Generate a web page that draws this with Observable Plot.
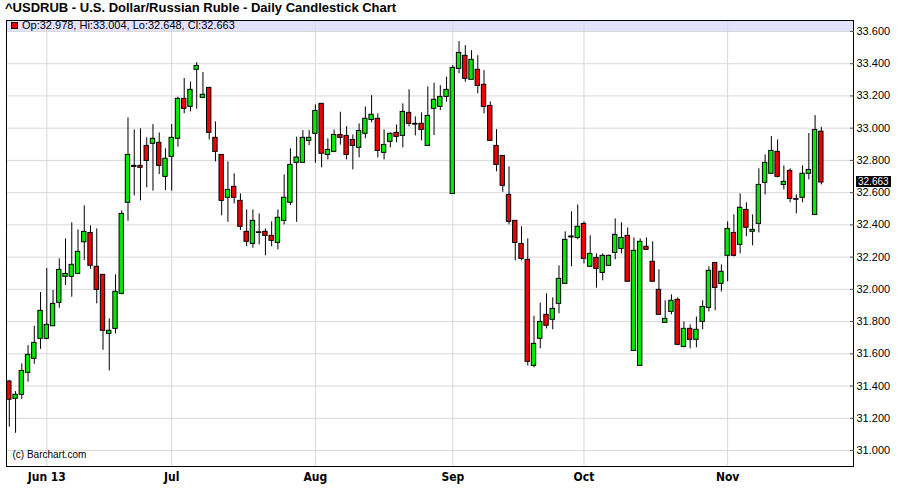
<!DOCTYPE html>
<html><head><meta charset="utf-8">
<script src="https://cdn.jsdelivr.net/npm/d3@7"></script>
<script src="https://cdn.jsdelivr.net/npm/@observablehq/plot@0.6"></script>
<style>
body{margin:0;background:#fff;}
#wrap{position:relative;width:901px;height:489px;overflow:hidden;}
#title{position:absolute;left:5px;top:0px;line-height:15px;font:bold 13px "Liberation Sans",Arial,sans-serif;color:#000;white-space:nowrap;}
#band{position:absolute;left:7px;top:21px;width:846px;height:11px;background:#e2e2fc;}
#legend{position:absolute;left:11px;top:19px;line-height:13px;font:11px "Liberation Sans",Arial,sans-serif;color:#000;white-space:nowrap;}
#legend .sq{display:inline-block;width:5px;height:5px;background:#f00000;border:1px solid #000;margin-right:4px;vertical-align:0px;}
#chart{position:absolute;left:0;top:0;}
#last{position:absolute;left:856px;height:11px;line-height:11px;padding:0 2px;background:#000;color:#fff;font:10px "Liberation Sans Narrow","Liberation Sans",Arial,sans-serif;}
</style></head>
<body>
<div id="wrap">
  <div id="band"></div>
  <div id="chart"></div>
  <div id="title">^USDRUB - U.S. Dollar/Russian Ruble - Daily Candlestick Chart</div>
  <div id="legend"><span class="sq"></span>Op:32.978, Hi:33.004, Lo:32.648, Cl:32.663</div>
  <div id="last"></div>
</div>
<script>
// Daily candles, 24 May 2013 .. 22 Nov 2013 (trading-day index 0..130)
const opens = [31.428,31.321,31.346,31.482,31.569,31.693,31.693,31.771,31.916,32.078,
32.078,32.096,32.292,32.350,32.140,32.090,31.724,31.755,31.972,32.537,
32.760,32.766,32.890,32.903,32.909,32.698,32.822,32.934,33.182,33.132,
33.362,33.188,33.250,32.940,32.834,32.568,32.636,32.549,32.357,32.282,
32.354,32.357,32.332,32.288,32.425,32.537,32.785,32.785,32.921,32.965,
33.151,32.834,32.853,32.958,32.952,32.927,32.878,32.965,33.051,33.058,
32.847,32.915,32.971,32.952,33.095,33.027,33.027,32.890,33.120,33.132,
33.194,32.592,33.368,33.449,33.300,33.362,33.269,33.138,32.890,32.828,
32.586,32.425,32.282,32.183,31.525,31.693,31.842,31.811,31.910,32.034,
32.322,32.319,32.406,32.140,32.195,32.102,32.146,32.226,32.251,32.332,
31.618,31.525,32.264,32.171,31.997,31.792,31.860,31.935,31.643,31.755,
31.687,31.798,31.885,32.164,32.034,32.208,32.350,32.276,32.493,32.357,
32.406,32.661,32.717,32.853,32.648,32.735,32.560,32.568,32.717,32.462,
32.978];
const highs = [31.435,31.366,31.538,31.651,31.771,31.980,32.129,31.993,32.189,32.313,
32.413,32.369,32.518,32.394,32.375,32.090,31.817,32.090,32.487,33.064,
32.989,32.996,32.940,33.022,32.971,32.872,33.022,33.192,33.308,33.287,
33.407,33.345,33.250,33.039,32.834,32.791,32.717,32.592,32.493,32.493,
32.468,32.375,32.419,32.493,32.710,32.872,32.944,32.985,32.985,33.144,
33.151,32.934,32.989,33.099,33.010,32.958,33.027,33.132,33.202,33.089,
32.989,32.971,33.020,33.151,33.238,33.070,33.095,33.256,33.279,33.264,
33.316,33.388,33.537,33.512,33.481,33.450,33.357,33.163,32.991,32.828,
32.760,32.425,32.388,32.313,31.833,31.914,31.972,31.947,32.146,32.357,
32.481,32.524,32.419,32.332,32.220,32.220,32.212,32.437,32.413,32.381,
32.319,32.313,32.319,32.295,32.121,31.929,31.966,31.947,31.798,31.780,
31.829,31.929,32.140,32.164,32.152,32.419,32.462,32.592,32.537,32.462,
32.748,32.834,32.948,32.927,32.766,32.748,32.586,32.766,32.967,33.078,
33.004];
const lows = [31.145,31.107,31.316,31.424,31.535,31.628,31.687,31.771,31.883,32.024,
31.951,32.096,32.179,32.125,31.910,31.622,31.494,31.724,31.966,32.422,
32.580,32.549,32.630,32.609,32.712,32.613,32.609,32.882,33.089,33.101,
33.117,33.188,32.927,32.791,32.456,32.416,32.530,32.365,32.264,32.255,
32.276,32.208,32.264,32.245,32.400,32.520,32.416,32.785,32.892,32.782,
32.754,32.803,32.853,32.895,32.803,32.741,32.816,32.934,33.033,32.816,
32.803,32.878,32.909,32.878,33.008,32.952,32.921,32.890,32.954,33.109,
33.161,32.592,33.337,33.285,33.300,33.213,33.089,32.921,32.729,32.602,
32.400,32.177,32.177,31.525,31.513,31.631,31.755,31.749,31.848,32.034,
32.140,32.307,32.158,32.140,32.007,32.053,32.146,32.183,32.220,32.047,
31.618,31.525,32.245,32.047,31.842,31.792,31.842,31.650,31.637,31.631,
31.637,31.749,31.860,31.867,31.984,32.047,32.202,32.220,32.326,32.270,
32.350,32.586,32.717,32.692,32.617,32.537,32.468,32.537,32.679,32.462,
32.648];
const closes = [31.315,31.346,31.494,31.594,31.668,31.867,31.780,31.910,32.121,32.096,
32.152,32.233,32.357,32.146,31.997,31.743,31.743,31.985,32.468,32.834,
32.766,32.754,32.797,32.934,32.766,32.810,32.940,33.182,33.120,33.238,
33.386,33.207,32.971,32.853,32.549,32.617,32.568,32.388,32.295,32.425,
32.350,32.332,32.301,32.444,32.568,32.772,32.818,32.940,32.940,33.107,
32.841,32.865,32.958,32.940,32.834,32.890,32.983,33.058,33.083,32.859,
32.896,32.965,32.946,33.101,33.027,33.022,32.989,33.076,33.176,33.194,
33.238,33.374,33.467,33.306,33.424,33.262,33.132,32.921,32.772,32.642,
32.419,32.288,32.189,31.550,31.662,31.798,31.774,31.879,32.065,32.307,
32.328,32.388,32.189,32.220,32.127,32.208,32.208,32.338,32.319,32.047,
32.239,32.295,32.245,32.047,31.842,31.817,31.929,31.656,31.755,31.687,
31.749,31.891,32.115,32.009,32.109,32.375,32.208,32.506,32.382,32.369,
32.648,32.785,32.859,32.698,32.667,32.561,32.556,32.717,32.741,32.989,
32.663];

// month boundaries as trading-day indices: 3 Jun, 1 Jul, 1 Aug, 2 Sep, 1 Oct, 1 Nov
const monthIndex = [6, 26, 49, 71, 92, 115];
const monthLabels = ["Jun 13", "Jul", "Aug", "Sep", "Oct", "Nov"];
const yTicks = [31.0, 31.2, 31.4, 31.6, 31.8, 32.0, 32.2, 32.4, 32.6, 32.8, 33.0, 33.2, 33.4, 33.6];

const UP = "#00ea00", DOWN = "#f00000", GRID = "#d9d9d9";
const candles = opens.map((o, i) => ({i, open: o, high: highs[i], low: lows[i], close: closes[i]}));
const labelOf = new Map(monthIndex.map((m, k) => [m, monthLabels[k]]));
const fmt = d3.format(".3f");
const half = 0.35;

const chart = Plot.plot({
  width: 901,
  height: 489,
  marginTop: 20,
  marginBottom: 23,
  marginLeft: 6,
  marginRight: 48,
  style: {background: "transparent", fontFamily: "'Liberation Sans', Arial, sans-serif", fontSize: "11px", color: "#000"},
  x: {domain: [-0.45, 135.15], axis: null, label: null},
  y: {domain: [30.901, 33.668], axis: null, label: null},
  color: {type: "identity"},
  marks: [
    Plot.gridY(yTicks, {stroke: GRID, strokeOpacity: 1}),
    Plot.gridX(monthIndex, {stroke: GRID, strokeOpacity: 1}),
    Plot.ruleX(candles, {x: "i", y1: "low", y2: "high", stroke: "#000"}),
    Plot.rect(candles, {
      x1: d => d.i - half, x2: d => d.i + half,
      y1: "open", y2: "close",
      fill: d => d.close >= d.open ? UP : DOWN,
      stroke: "#000", strokeWidth: 1
    }),
    Plot.frame({stroke: "#000"}),
    Plot.axisY({anchor: "right", ticks: yTicks, tickSize: 4, dx: -4, tickFormat: () => "", stroke: "#555", label: null}),
    Plot.axisY({anchor: "right", ticks: yTicks, tickSize: 0, tickPadding: 3, tickFormat: fmt, fontSize: 11, label: null}),
    Plot.axisX({anchor: "bottom", ticks: monthIndex, tickSize: 0, tickPadding: 6, label: null,
      tickFormat: d => labelOf.get(d), fontWeight: "bold", fontSize: 12,
      fontFamily: "'Liberation Sans Narrow', 'Arial Narrow', 'DejaVu Sans Condensed', sans-serif"}),
    Plot.text(["(c) Barchart.com"], {frameAnchor: "bottom-left", dx: 6, dy: -9, textAnchor: "start", fontSize: 10})
  ]
});
document.getElementById("chart").appendChild(chart);

const lastClose = closes[closes.length - 1];
const lastEl = document.getElementById("last");
lastEl.textContent = fmt(lastClose);
lastEl.style.top = (chart.scale("y").apply(lastClose) - 5.5) + "px";
</script>
</body></html>
